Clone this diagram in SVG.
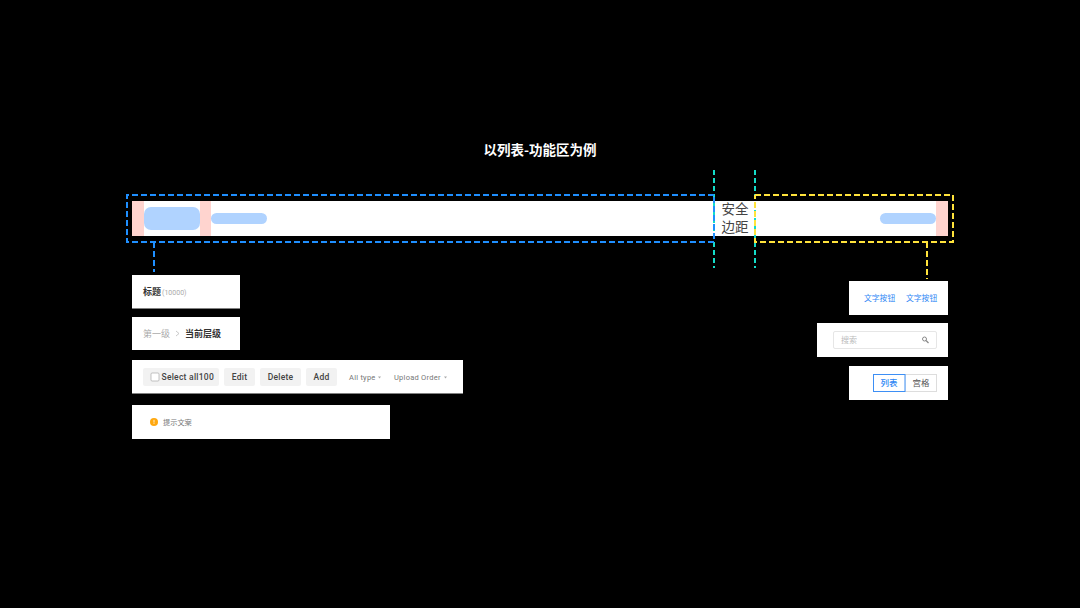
<svg xmlns="http://www.w3.org/2000/svg" width="1080" height="608" viewBox="0 0 1080 608">
<style>
text{font-family:"Roboto","Liberation Sans","Noto Sans CJK SC",sans-serif}
.cjk{font-family:"Noto Sans CJK SC",sans-serif}
.card{fill:#fff}
.pink{fill:#ffd4cf}
.pill{fill:#b0d3ff}
.gbtn{fill:#f2f2f2}
.btxt{font-size:8.500px;font-weight:500;fill:#444;text-anchor:middle;letter-spacing:.25px}
.dd{font-size:7.500px;fill:#777;letter-spacing:.25px}
.arr{fill:#aaa}
.blue{fill:none;stroke:#1f8fff;stroke-width:2;stroke-dasharray:6 3}
.yellow{fill:none;stroke:#ffe33b;stroke-width:2;stroke-dasharray:6 3}
.cyan{fill:none;stroke:#14dcc8;stroke-width:2;stroke-dasharray:5 3}
</style>
<rect width="1080" height="608" fill="#000"/>
<text class="cjk" x="540" y="155" font-size="13.500" font-weight="700" fill="#fff" text-anchor="middle">以列表-功能区为例</text>
<g id="bar">
<rect x="132" y="201" width="816" height="35" fill="#fff"/>
<rect class="pink" x="132" y="201" width="12" height="35"/>
<rect class="pink" x="200" y="201" width="11" height="35"/>
<rect class="pink" x="936" y="201" width="12" height="35"/>
<rect class="pill" x="144" y="207" width="56" height="23" rx="7"/>
<rect class="pill" x="211" y="213" width="56" height="11" rx="5.500"/>
<rect class="pill" x="880" y="213" width="56" height="11" rx="5.500"/>
<text class="cjk" x="735" y="214" font-size="13.500" fill="#444" text-anchor="middle">安全</text>
<text class="cjk" x="735" y="232" font-size="13.500" fill="#444" text-anchor="middle">边距</text>
</g>
<g id="connectors">
<path class="cyan" d="M714 170V268"/>
<path class="cyan" d="M755 170V268"/>
<path class="blue" d="M714 195H127V242H714V195"/>
<path class="blue" d="M154 242V272"/>
<path class="yellow" d="M755 195H953V242H755V195"/>
<path class="yellow" d="M927 242V279"/>
</g>
<g id="title-card">
<rect class="card" x="132" y="275" width="108" height="33.500"/>
<text class="cjk" x="143" y="295" font-size="9" font-weight="700" fill="#333">标题</text>
<text x="162" y="295" font-size="7" fill="#aaa">(10000)</text>
</g>
<g id="breadcrumb-card">
<rect class="card" x="132" y="317" width="108" height="33"/>
<text class="cjk" x="143" y="337" font-size="9" fill="#aaa">第一级</text>
<path d="M176 331l3 2.500-3 2.500" fill="none" stroke="#bbb" stroke-width=".8"/>
<text class="cjk" x="185" y="337" font-size="9" font-weight="700" fill="#333">当前层级</text>
</g>
<g id="toolbar-card">
<rect class="card" x="132" y="360" width="331" height="33.500"/>
<rect class="gbtn" x="143" y="368" width="76" height="18" rx="2"/>
<rect x="151" y="373" width="8" height="8" rx="1" fill="#fff" stroke="#aaa" stroke-width=".7"/>
<text class="btxt" x="161.500" y="380" style="text-anchor:start">Select all100</text>
<rect class="gbtn" x="224" y="368" width="31" height="18" rx="2"/>
<text class="btxt" x="239.500" y="380">Edit</text>
<rect class="gbtn" x="260" y="368" width="41" height="18" rx="2"/>
<text class="btxt" x="280.500" y="380">Delete</text>
<rect class="gbtn" x="306" y="368" width="31" height="18" rx="2"/>
<text class="btxt" x="321.500" y="380">Add</text>
<text class="dd" x="349" y="380">All type</text>
<path class="arr" d="M378 376.500h3l-1.500 2z"/>
<text class="dd" x="394" y="380">Upload Order</text>
<path class="arr" d="M444 376.500h3l-1.500 2z"/>
</g>
<g id="alert-card">
<rect class="card" x="132" y="405" width="258" height="34"/>
<circle cx="154" cy="422" r="4" fill="#ffa80f"/>
<rect x="153.600" y="419.800" width=".8" height="2.800" fill="#fff"/>
<rect x="153.600" y="423.200" width=".8" height=".8" fill="#fff"/>
<text class="cjk" x="163" y="425" font-size="7.200" fill="#777">提示文案</text>
</g>
<g id="text-buttons-card">
<rect class="card" x="849" y="281" width="99" height="34"/>
<text class="cjk" x="864" y="301" font-size="7.800" fill="#2c86f5">文字按钮</text>
<text class="cjk" x="906" y="301" font-size="7.800" fill="#2c86f5">文字按钮</text>
</g>
<g id="search-card">
<rect class="card" x="817" y="323" width="131" height="34"/>
<rect x="833.500" y="331.500" width="103" height="17" rx="1.500" fill="#fff" stroke="#e6e6e6"/>
<text class="cjk" x="841" y="343" font-size="8" fill="#bbb">搜索</text>
<circle cx="924.500" cy="339" r="2" fill="none" stroke="#888"/>
<path d="M926 340.500l2.500 2.500" stroke="#888" stroke-width="1.200"/>
</g>
<g id="toggle-card">
<rect class="card" x="849" y="366" width="99" height="34"/>
<rect x="905" y="374.500" width="31.500" height="17" fill="#fff" stroke="#ddd"/>
<rect x="873.500" y="374.500" width="31.500" height="17" fill="#fff" stroke="#3d8ff5"/>
<text class="cjk" x="889" y="386" font-size="8.500" font-weight="500" fill="#2c86f5" text-anchor="middle">列表</text>
<text class="cjk" x="921" y="386" font-size="8.500" fill="#555" text-anchor="middle">宫格</text>
</g>
</svg>
